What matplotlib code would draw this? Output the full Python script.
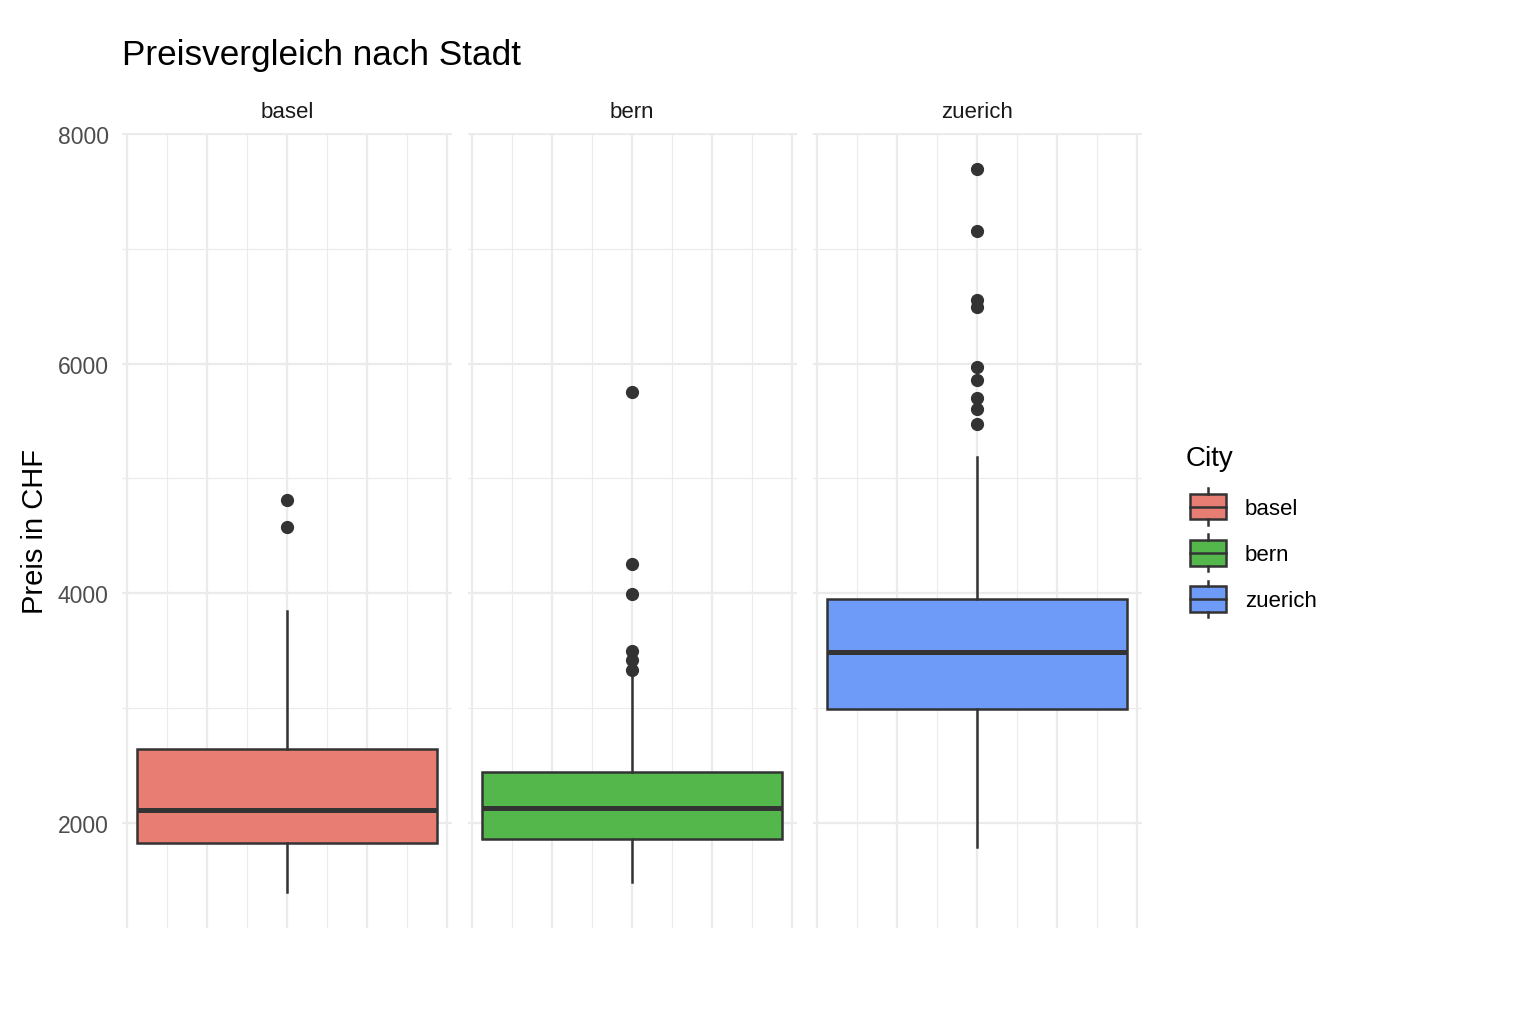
import matplotlib
matplotlib.use("Agg")
import matplotlib.pyplot as plt
from matplotlib.patches import Rectangle
from matplotlib.lines import Line2D
from matplotlib.legend_handler import HandlerBase

plt.rcParams['font.family'] = ['Liberation Sans', 'DejaVu Sans']

# values (CHF)
cities = ['basel', 'bern', 'zuerich']
fill_colors = ['#E87D73', '#53B74C', '#6F9BF8']
q1 = [1823, 1861, 2994]
median = [2110, 2130, 3490]
q3 = [2646, 2443, 3950]
whisker_low = [1397, 1487, 1791]
whisker_high = [3846, 3287, 5189]
outliers = [
    [4574, 4809],
    [3330, 3413, 3496, 3991, 4252, 5751],
    [5472, 5606, 5698, 5855, 5974, 6493, 6557, 7154, 7696],
]

EDGE = '#333333'
GRID = '#EBEBEB'
W, H = 1530, 1020


class BoxKeyHandler(HandlerBase):
    """Draw a little ggplot-style boxplot glyph as legend key"""
    def __init__(self, color):
        super().__init__()
        self.color = color

    def create_artists(self, legend, orig_handle, xdescent, ydescent,
                       width, height, fontsize, trans):
        x0, y0 = -xdescent, -ydescent
        inset_x = width * 0.09
        inset_y = height * 0.16
        cx = x0 + width / 2
        box = Rectangle((x0 + inset_x, y0 + inset_y), width - 2 * inset_x,
                        height - 2 * inset_y, facecolor=self.color,
                        edgecolor=EDGE, linewidth=1.8, transform=trans)
        mid = Line2D([x0 + inset_x, x0 + width - inset_x], [y0 + height / 2] * 2,
                     color=EDGE, linewidth=1.8, transform=trans)
        top = Line2D([cx, cx], [y0 + height - inset_y, y0 + height],
                     color=EDGE, linewidth=1.8, transform=trans)
        bot = Line2D([cx, cx], [y0, y0 + inset_y],
                     color=EDGE, linewidth=1.8, transform=trans)
        return [box, mid, top, bot]


fig = plt.figure(figsize=(W / 100, H / 100), dpi=100)

all_vals = whisker_low + whisker_high + [v for o in outliers for v in o]
lo, hi = min(all_vals), max(all_vals)
pad = 0.05 * (hi - lo)

panel_left = [122.5, 467.5, 812.5]
panel_w = 329
panel_top, panel_bottom = 133.8, 929

axes = []
for i, city in enumerate(cities):
    ax = fig.add_axes([panel_left[i] / W, 1 - panel_bottom / H,
                       panel_w / W, (panel_bottom - panel_top) / H])
    stats = [{
        'q1': q1[i], 'med': median[i], 'q3': q3[i],
        'whislo': whisker_low[i], 'whishi': whisker_high[i],
        'fliers': outliers[i],
    }]
    ax.bxp(stats, positions=[0], widths=0.75, patch_artist=True, showcaps=False,
           boxprops=dict(facecolor=fill_colors[i], edgecolor=EDGE, linewidth=1.8),
           medianprops=dict(color=EDGE, linewidth=3.6),
           whiskerprops=dict(color=EDGE, linewidth=1.8),
           flierprops=dict(marker='o', markerfacecolor=EDGE, markeredgecolor=EDGE,
                           markersize=8.5))
    ax.set_xlim(-0.4125, 0.4125)
    ax.set_ylim(lo - pad, hi + pad)
    ax.set_xticks([-0.4, -0.2, 0, 0.2, 0.4])
    ax.set_xticks([-0.3, -0.1, 0.1, 0.3], minor=True)
    ax.set_yticks([2000, 4000, 6000, 8000])
    ax.set_yticks([3000, 5000, 7000], minor=True)
    ax.grid(which='major', color=GRID, linewidth=1.6)
    ax.grid(which='minor', color=GRID, linewidth=0.8)
    ax.set_axisbelow(True)
    for s in ax.spines.values():
        s.set_visible(False)
    ax.tick_params(which='both', length=0, labelbottom=False)
    ax.tick_params(axis='y', labelsize=16.5, labelcolor='#4D4D4D', pad=10)
    if i > 0:
        ax.tick_params(axis='y', labelleft=False)
    fig.text((panel_left[i] + panel_w / 2) / W, 1 - 112 / H, city,
             ha='center', va='center', fontsize=16, color='#1A1A1A')
    axes.append(ax)

fig.text(122 / W, 1 - 55 / H, 'Preisvergleich nach Stadt',
         ha='left', va='center', fontsize=25.3, color='black')
fig.text(35 / W, 1 - 532 / H, 'Preis in CHF', rotation=90,
         ha='center', va='center', fontsize=21, color='black')

# legend with boxplot glyphs
handles = [Rectangle((0, 0), 1, 1) for _ in cities]
handler_map = {h: BoxKeyHandler(c) for h, c in zip(handles, fill_colors)}
leg = fig.legend(handles, cities, handler_map=handler_map,
                 loc='upper left', bbox_to_anchor=(1186 / W, 1 - 446 / H),
                 frameon=False, fontsize=16, title='City', title_fontsize=20,
                 alignment='left', borderpad=0, borderaxespad=0,
                 handlelength=2.0, handleheight=2.18, labelspacing=0.41,
                 handletextpad=0.65)
# more room between legend title and keys, like ggplot
leg._legend_box.sep = 0.41 * 16 + 6

fig.savefig('out.png', dpi=100, facecolor='white')
